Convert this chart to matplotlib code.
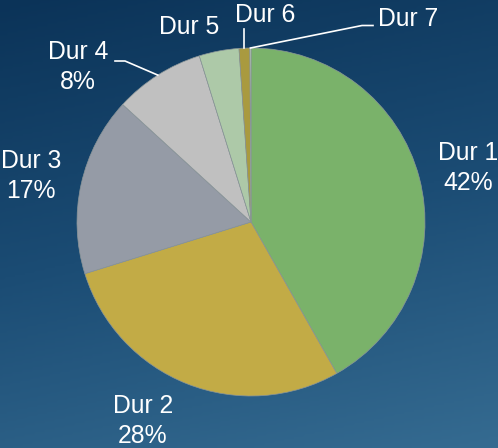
import numpy as np
import matplotlib
matplotlib.use("Agg")
import matplotlib.pyplot as plt
from matplotlib.colors import LinearSegmentedColormap

# data
labels = ["Dur 1", "Dur 2", "Dur 3", "Dur 4", "Dur 5", "Dur 6", "Dur 7"]
shares = [41.8, 28.4, 16.6, 8.4, 3.7, 1.0, 0.1]
show_pct = [True, True, True, True, False, False, False]
colors = ["#7ab26a", "#c2ab46", "#959ba6", "#c0c0c0", "#adc9a8", "#a99a3f", "#d8e4d0"]

W, H = 498, 448
fig = plt.figure(figsize=(W / 100, H / 100), dpi=100)

# gradient background
bg = fig.add_axes([0, 0, 1, 1])
bg.axis("off")
yy, xx = np.mgrid[0:1:200j, 0:1:200j]
t = 0.8 * yy + 0.2 * xx
cmap = LinearSegmentedColormap.from_list("bg", ["#0b3358", "#1b4c74", "#356b91"])
bg.imshow(t, cmap=cmap, aspect="auto", extent=[0, 1, 1, 0])

ax = fig.add_axes([0, 0, 1, 1])
ax.patch.set_alpha(0)

cx, cy, r = 251, H - 222, 174
wedges, _ = ax.pie(shares, colors=colors, startangle=90, counterclock=False,
                   center=(cx, cy), radius=r, frame=True,
                   wedgeprops=dict(edgecolor="#8a9598", linewidth=0.5))
ax.set_xlim(0, W)
ax.set_ylim(0, H)
ax.axis("off")

total = sum(shares)
# name label centres (pixel space, y from top); percent sits one line below
label_pos = [(468, 153), (143, 406), (31, 161), (78, 52), (189, 27), (265, 15), (408, 19)]
fs = 17.8
for i, lab in enumerate(labels):
    lx, ly = label_pos[i]
    ax.text(lx, H - ly, lab, ha="center", va="center", color="white",
            fontsize=fs, family="Liberation Sans")
    if show_pct[i]:
        pct = "%d%%" % round(shares[i] / total * 100)
        ax.text(lx, H - ly - 30, pct, ha="center", va="center", color="white",
                fontsize=fs, family="Liberation Sans")

# leader lines for the small slices
def edge_point(w):
    a = np.deg2rad((w.theta1 + w.theta2) / 2)
    return cx + r * np.cos(a), cy + r * np.sin(a)

px, py = edge_point(wedges[3])
ax.plot([px, 125, 115], [py, H - 61, H - 61], color="white", lw=1.2)
px, py = edge_point(wedges[5])
ax.plot([px, px], [py, H - 29], color="white", lw=1.2)
px, py = edge_point(wedges[6])
ax.plot([px, 362, 373], [py, H - 25.5, H - 25.5], color="white", lw=1.2)

fig.savefig("out.png", dpi=100)
